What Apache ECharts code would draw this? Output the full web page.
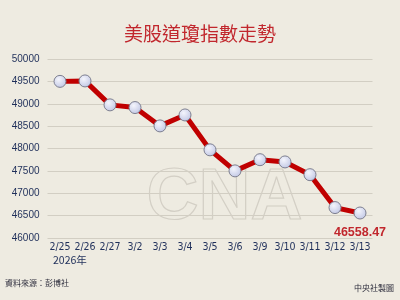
<!DOCTYPE html>
<html><head><meta charset="utf-8">
<script src="https://cdn.jsdelivr.net/npm/echarts@6/dist/echarts.min.js"></script>
<style>html,body{margin:0;padding:0;background:#eeebe1;}#c{width:400px;height:300px;}</style>
</head><body><div id="c"></div>
<script>
const categories = ['2/25','2/26','2/27','3/2','3/3','3/4','3/5','3/6','3/9','3/10','3/11','3/12','3/13'];
const values = [49500, 49510, 48975, 48915, 48505, 48750, 47970, 47500, 47750, 47700, 47415, 46680, 46558.47];
const yTicks = [46000, 50000, 500];
const lastLabel = '46558.47';

const chart = echarts.init(document.getElementById('c'), null, {renderer:'canvas'});
const font = '"Noto Sans CJK TC", "Noto Sans", sans-serif';
chart.setOption({
  backgroundColor:'#eeebe1',
  animation:false,
  title:{text:'美股道瓊指數走勢', left:'center', top:19,
    textStyle:{color:'#c1272d', fontSize:19, fontWeight:'normal', fontFamily:font}},
  grid:{left:47.5, right:27.5, top:59, bottom:62},
  xAxis:{type:'category', data:categories, boundaryGap:true,
    axisLine:{show:false}, axisTick:{show:false},
    axisLabel:{color:'#1f2f5a', fontSize:10.5, margin:4, fontFamily:'"DejaVu Sans Condensed", "Liberation Sans", sans-serif', interval:0}},
  yAxis:{type:'value', min:yTicks[0], max:yTicks[1], interval:yTicks[2],
    axisLine:{show:false}, axisTick:{show:false},
    axisLabel:{color:'#1f2f5a', fontSize:10, margin:8, fontFamily:'"Liberation Sans", sans-serif', formatter:v=>String(v)},
    splitLine:{lineStyle:{color:'#d2cec3', width:1}}},
  graphic:[
    {type:'text', left:53, top:255, style:{text:'2026年', fill:'#1f2f5a', font:'10.5px '+font}},
    {type:'text', left:5, top:279, style:{text:'資料來源：彭博社', fill:'#2a2a3a', font:'8px '+font}},
    {type:'text', right:6, top:284, style:{text:'中央社製圖', fill:'#2a2a3a', font:'8px '+font}},
    {type:'text', left:146, top:163, z:-1, style:{text:'CNA', fill:'rgba(0,0,0,0)', stroke:'#d3cfc5', lineWidth:1.2, font:'bold 72px "Liberation Sans", sans-serif'}}
  ],
  series:[{
    type:'line', data:values.map((v,i)=> i===values.length-1 ? {value:v, label:{show:true, formatter:lastLabel, position:'bottom', offset:[0,2], color:'#c1272d', fontSize:12.5, fontWeight:'bold', fontFamily:'"Liberation Sans", sans-serif'}} : v),
    lineStyle:{color:'#c00000', width:5},
    symbol:'circle', symbolSize:12,
    itemStyle:{color:{type:'radial', x:0.4, y:0.35, r:0.7, colorStops:[{offset:0,color:'#f4f5fc'},{offset:1,color:'#bfc5e4'}]}, borderColor:'#7d7f90', borderWidth:1},
    z:5
  }]
});
</script></body></html>
